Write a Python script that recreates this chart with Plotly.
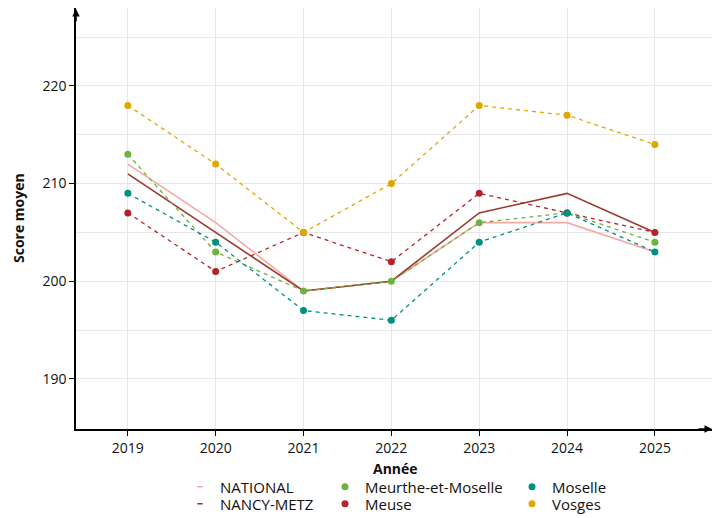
import plotly.graph_objects as go

years = [2019, 2020, 2021, 2022, 2023, 2024, 2025]

national = [212, 206, 199, 200, 206, 206, 203]
nancy_metz = [211, 205, 199, 200, 207, 209, 205]
meurthe = [213, 203, 199, 200, 206, 207, 204]
meuse = [207, 201, 205, 202, 209, 207, 205]
moselle = [209, 204, 197, 196, 204, 207, 203]
vosges = [218, 212, 205, 210, 218, 217, 214]

academies = [("NATIONAL", national, "#f4a9a2"), ("NANCY-METZ", nancy_metz, "#9b3a2c")]
departements = [
    ("Meurthe-et-Moselle", meurthe, "#6db33f"),
    ("Meuse", meuse, "#b3242a"),
    ("Moselle", moselle, "#00907f"),
    ("Vosges", vosges, "#e0a700"),
]

FONT = "Open Sans"
fig = go.Figure()

for name, vals, col in academies:
    fig.add_trace(go.Scatter(x=years, y=vals, mode="lines", name=name,
                             line=dict(color=col, width=1.6), showlegend=False))
for name, vals, col in departements:
    fig.add_trace(go.Scatter(x=years, y=vals, mode="lines+markers", name=name,
                             line=dict(color=col, width=1.3, dash="4px,4px"),
                             marker=dict(color=col, size=7), showlegend=False))

# page has an 8px body margin, so the figure is 712x510
W, H = 712, 510
L, R, T, B = 68, 8, 0, 89
PW, PH = W - L - R, H - T - B

# one legend per entry: (legend id, left x px, row centre y px)
legend_slots = {
    "NATIONAL": ("legend", 172, 479),
    "NANCY-METZ": ("legend2", 172, 496),
    "Meurthe-et-Moselle": ("legend3", 317, 479),
    "Meuse": ("legend4", 317, 496),
    "Moselle": ("legend5", 504, 479),
    "Vosges": ("legend6", 504, 496),
}

for name, vals, col in academies:
    fig.add_trace(go.Scatter(x=[None], y=[None], mode="markers", name=name,
                             marker=dict(symbol="line-ew", size=4, color=col,
                                         line=dict(color=col, width=1.5)),
                             legend=legend_slots[name][0]))
for name, vals, col in departements:
    fig.add_trace(go.Scatter(x=[None], y=[None], mode="markers", name=name,
                             marker=dict(color=col, size=7),
                             legend=legend_slots[name][0]))

leg_common = dict(orientation="v", yanchor="middle", xanchor="left",
                  xref="container", yref="container",
                  font=dict(family=FONT, size=15, color="#111"),
                  bgcolor="rgba(0,0,0,0)", tracegroupgap=0, itemwidth=30,
                  borderwidth=0)
legends = {}
for name, (lid, lx, ly) in legend_slots.items():
    legends[lid] = dict(x=lx / W, y=1 - ly / H, **leg_common)

fig.update_layout(
    width=W, height=H,
    margin=dict(l=L, r=R, t=T, b=B, autoexpand=False),
    plot_bgcolor="white", paper_bgcolor="white",
    font=dict(family=FONT, size=14, color="#111"),
    xaxis=dict(range=[2018.41, 2025.65], tickvals=years, ticktext=[str(y) for y in years],
               showgrid=True, gridcolor="#e6e6e6", gridwidth=1.2,
               showline=True, linecolor="black", linewidth=1.5,
               ticks="outside", ticklen=5, tickcolor="black", tickwidth=1.3,
               tickfont=dict(family=FONT, size=14, color="#111"),
               zeroline=False, automargin=False),
    yaxis=dict(range=[184.87, 227.98], tickvals=[190, 200, 210, 220],
               showgrid=True, gridcolor="#e6e6e6", gridwidth=1.2,
               minor=dict(tickvals=[195, 205, 215, 225], showgrid=True,
                          gridcolor="#e6e6e6", gridwidth=1.2),
               showline=True, linecolor="black", linewidth=1.5,
               ticks="outside", ticklen=5, tickcolor="black", tickwidth=1.3,
               tickfont=dict(family=FONT, size=14, color="#111"),
               zeroline=False, automargin=False),
    **legends,
)

# axis titles
fig.add_annotation(xref="paper", yref="paper", x=(387 - L) / PW, y=(T + PH - 460) / PH,
                   xanchor="center", yanchor="middle",
                   text="<b>Année</b>", showarrow=False,
                   font=dict(family=FONT, size=14, color="#111"))
fig.add_annotation(xref="paper", yref="paper", x=(10 - L) / PW, y=(T + PH - 210) / PH,
                   xanchor="center", yanchor="middle",
                   text="<b>Score moyen</b>", showarrow=False, textangle=-90,
                   font=dict(family=FONT, size=14, color="#111"))

# axis arrows
fig.add_annotation(xref="paper", yref="paper", x=0, y=1, ax=0, ay=15,
                   showarrow=True, arrowhead=2, arrowsize=1, arrowwidth=1.5,
                   arrowcolor="black", text="")
fig.add_annotation(xref="paper", yref="paper", x=1, y=0, ax=-15, ay=0,
                   showarrow=True, arrowhead=2, arrowsize=1, arrowwidth=1.5,
                   arrowcolor="black", text="")

fig.write_html("out.html")
